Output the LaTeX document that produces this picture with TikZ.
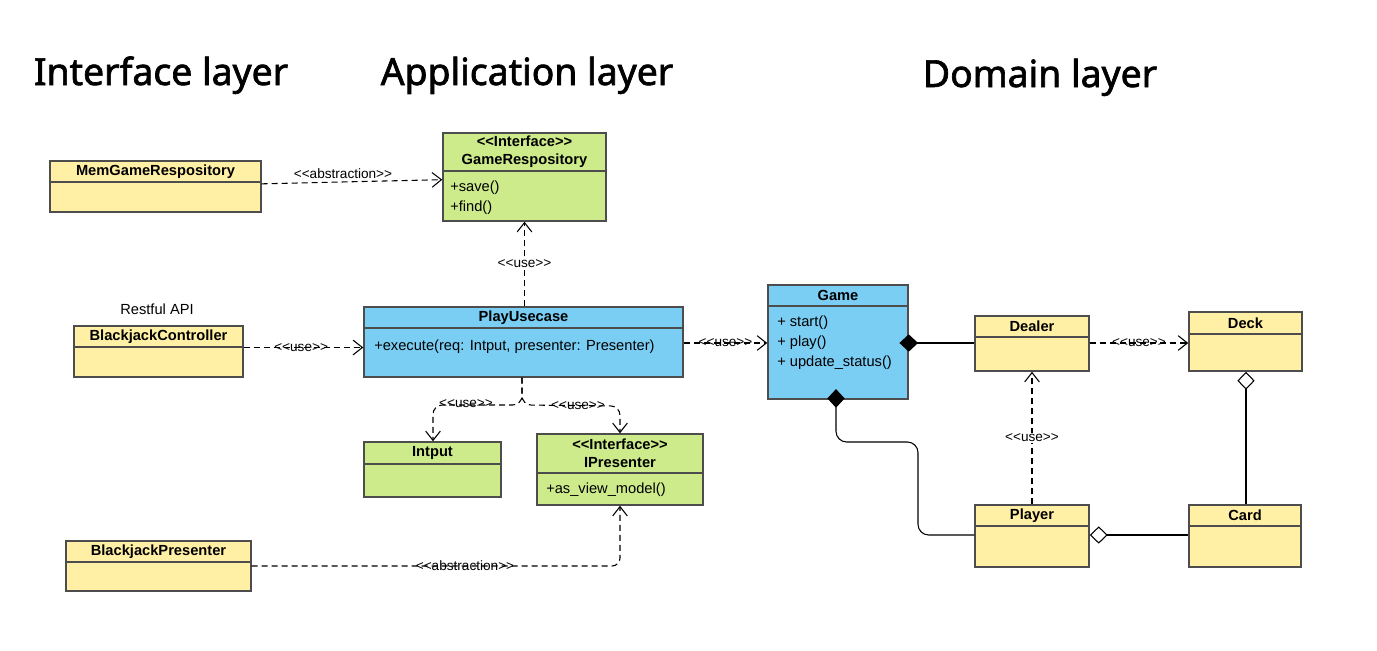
\documentclass[tikz,border=0pt]{standalone}
\usepackage{fontspec}
\setmainfont{Liberation Sans}
\newfontfamily\titlefont[FakeBold=1.8]{Noto Sans}
\usetikzlibrary{arrows.meta,fit,calc}
\definecolor{cyel}{HTML}{FFF0A5}
\definecolor{cgrn}{HTML}{CDEB8B}
\definecolor{cblu}{HTML}{7ACEF4}
\definecolor{boxc}{HTML}{4D4D4D}
\tikzset{
  umlbox/.style={draw=boxc, line width=1.1pt, inner sep=0pt},
  hdr/.style={font=\bfseries\fontsize{11}{13.5}\selectfont, inner sep=0pt, align=center},
  member/.style={font=\fontsize{11}{13}\selectfont, anchor=west, inner sep=0pt},
  lbl/.style={font=\fontsize{10.2}{12}\selectfont, inner sep=1pt},
  ttl/.style={font=\titlefont\fontsize{28}{34}\selectfont, anchor=base, inner sep=0pt},
  conn/.style={draw=black, line width=0.8pt},
  dep/.style={conn, dash pattern=on 4.5pt off 3pt, -{Straight Barb[length=7pt,width=11pt,line width=0.8pt]}},
  comp/.style={conn, {Diamond[length=14pt,width=13pt]}-},
  aggr/.style={conn, {Diamond[open,fill=white,length=13.5pt,width=13pt,line width=0.8pt]}-},
}
\newcommand\umlclass[8]{%
  \coordinate (#1-nw) at (#2,#3);
  \coordinate (#1-se) at (#4,#5);
  \node[umlbox, fill=#7, fit=(#1-nw)(#1-se)] (#1) {};
  \draw[draw=boxc, line width=1.1pt] (#2,#6) -- (#4,#6);
  \node[hdr] (#1-hdr) at ({(#2+#4)/2},{(#3+#6)/2}) {#8};
}
\begin{document}
\begin{tikzpicture}[x=0.75pt,y=-0.75pt]
\useasboundingbox[fill=white] (0,0) rectangle (1377,650);

% titles
\node[ttl] (t1) at (161,85) {Interface layer};
\node[ttl] (t2) at (527,85) {Application layer};
\node[ttl] (t3) at (1040,87) {Domain layer};

% classes
\umlclass{mem}{50}{161}{261}{212}{182}{cyel}{MemGameRespository}
\umlclass{grepo}{443}{133}{606}{221}{171}{cgrn}{<{}<Interface>{}>\\GameRespository}
\node[member] (grepo-m1) at (450,188) {+save()};
\node[member] (grepo-m2) at (450,208) {+find()};

\node[font=\fontsize{11}{13}\selectfont, inner sep=0pt] (rest) at (157,309) {Restful API};
\umlclass{ctrl}{74}{326}{243}{377}{347}{cyel}{BlackjackController}

\umlclass{play}{364}{307}{683}{377}{328}{cblu}{PlayUsecase}
\node[member] (play-m1) at (374,347) {+execute(req: Intput, presenter: Presenter)};

\umlclass{intput}{364}{442}{501}{497}{464}{cgrn}{Intput}
\umlclass{ipres}{537}{434}{703}{505}{473}{cgrn}{<{}<Interface>{}>\\IPresenter}
\node[member] (ipres-m1) at (546,490) {+as\_view\_model()};

\umlclass{bpres}{66}{541}{251}{591}{562}{cyel}{BlackjackPresenter}

\umlclass{game}{768}{285}{908}{399}{306}{cblu}{Game}
\node[member] (game-m1) at (777,323) {+ start()};
\node[member] (game-m2) at (777,343) {+ play()};
\node[member] (game-m3) at (777,363) {+ update\_status()};

\umlclass{dealer}{975}{316}{1089}{371}{337}{cyel}{Dealer}
\umlclass{deck}{1189}{312}{1302}{371}{334}{cyel}{Deck}
\umlclass{player}{975}{505}{1089}{567}{526}{cyel}{Player}
\umlclass{card}{1189}{505}{1301}{567}{526}{cyel}{Card}

% connectors
\draw[dep] ([yshift=2pt]mem.east) -- ([yshift=-2pt]grepo.west)
  node[lbl, pos=0.45, above=1pt] (l1) {<{}<abstraction>{}>};
\draw[dep] ([yshift=3pt]ctrl.east) -- ([yshift=3pt]ctrl.east -| play.west)
  node[lbl, pos=0.48] (l2) {<{}<use>{}>};
\draw[dep] (play.north -| grepo.south) -- (grepo.south)
  node[lbl, midway, fill=white] (l3) {<{}<use>{}>};
\draw[dep, rounded corners=7pt] (play.south -| 522,0) -- (522,405) -- (433,405) -- (intput.north -| 433,0);
\node[lbl] (l4t) at (466,404) {<{}<use>{}>};
\draw[dep, rounded corners=7pt] (play.south -| 522,0) -- (522,405) -- (620,406) -- (ipres.north);
\node[lbl] (l5t) at (578,406) {<{}<use>{}>};
\draw[dep, rounded corners=6pt] (bpres.east) -| (ipres.south);
\node[lbl] (l6) at (465,566) {<{}<abstraction>{}>};
\draw[dep] (play.east |- 0,343) -- (game.west |- 0,343)
  node[lbl, midway] (l7) {<{}<use>{}>};

\draw[comp] ([xshift=-7pt]game.east |- 0,343) -- (dealer.west |- 0,343);
\draw[dep] (dealer.east |- 0,343) -- (deck.west |- 0,343)
  node[lbl, midway] (l8) {<{}<use>{}>};
\draw[aggr] (deck.south -| 1246,0) -- (card.north -| 1246,0);
\draw[dep] (player.north -| 1032,0) -- (dealer.south -| 1032,0)
  node[lbl, pos=0.5, fill=white] (l9) {<{}<use>{}>};
\draw[comp, rounded corners=8pt] ([yshift=8pt]game.south -| 836,0) |- (918,442) |- (player.west |- 0,535);
\draw[aggr] (player.east |- 0,535) -- (card.west |- 0,535);
\end{tikzpicture}
\end{document}
